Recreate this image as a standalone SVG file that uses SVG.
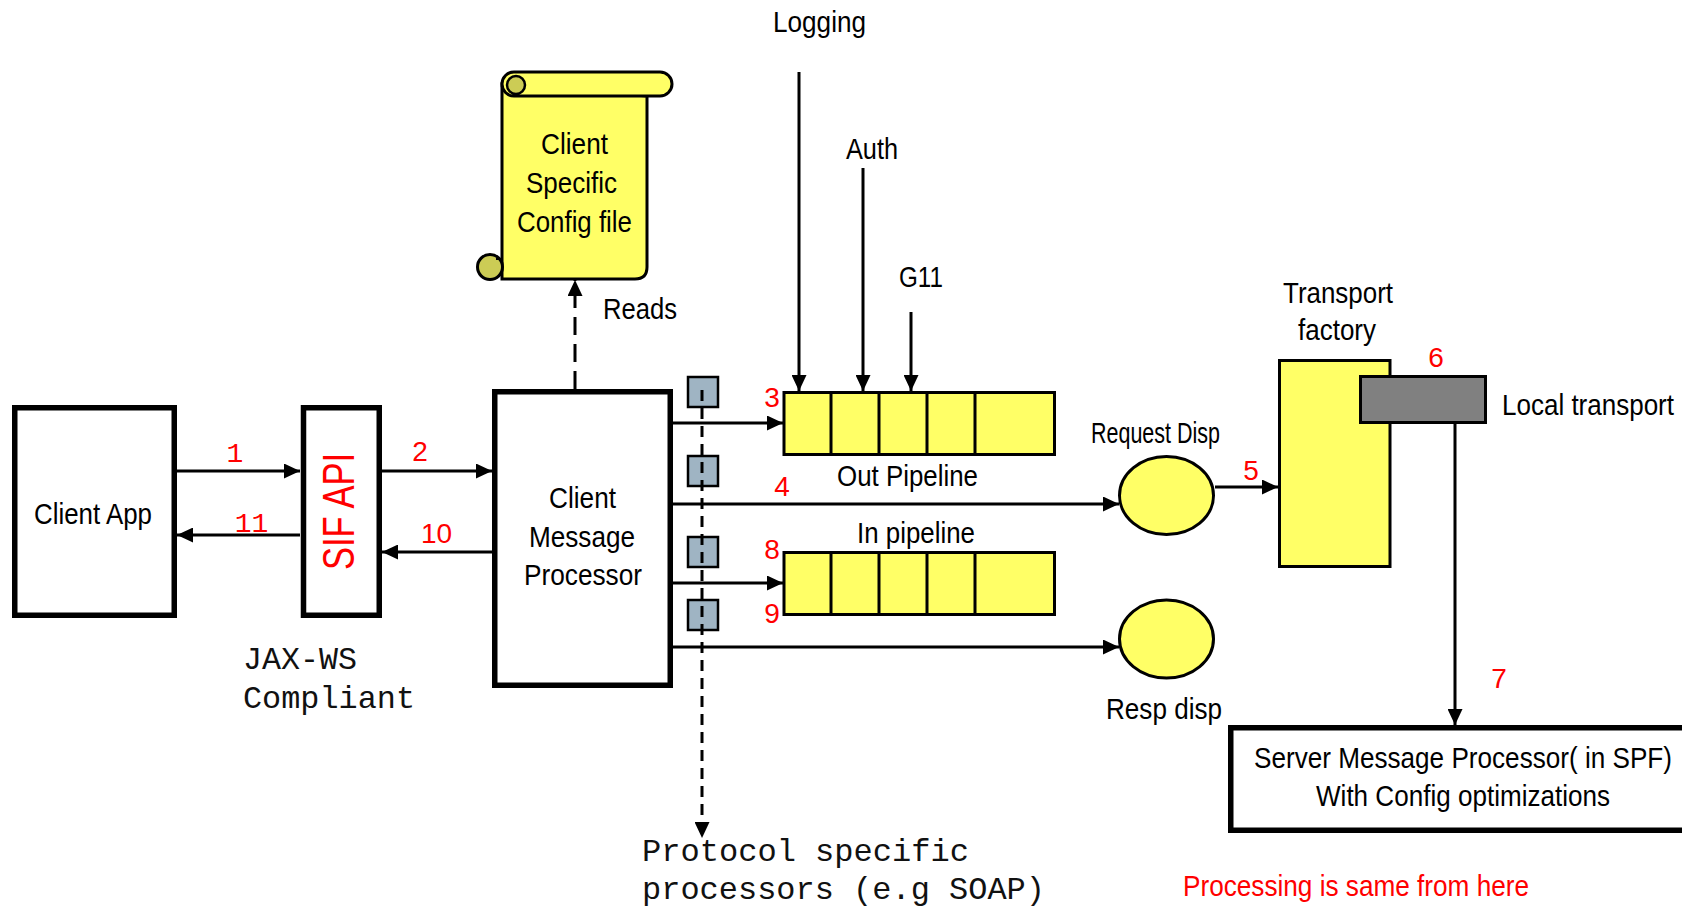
<svg xmlns="http://www.w3.org/2000/svg" width="1682" height="909" viewBox="0 0 1682 909">
<style>
.t{font-family:"Liberation Sans",Arial,sans-serif;font-size:30px;fill:#000;text-anchor:middle}
.m{font-family:"Liberation Mono","Courier New",monospace;font-size:32px;fill:#111}
.r{font-family:"Liberation Sans",Arial,sans-serif;font-size:28px;fill:#ff0000;text-anchor:middle}
.rm{font-family:"Liberation Mono","Courier New",monospace;font-size:28px;fill:#ff0000;text-anchor:middle}
.box{fill:#fff;stroke:#000;stroke-width:5.5}
.yel{fill:#ffff66;stroke:#000;stroke-width:3}
.sq{fill:#9fb4c3;stroke:#000;stroke-width:2.5}
.ln{fill:none;stroke:#000;stroke-width:3;marker-end:url(#ah)}
.dl{fill:none;stroke:#000;stroke-width:3;stroke-dasharray:11 7;marker-end:url(#ah)}
</style>
<defs>
<marker id="ah" markerUnits="userSpaceOnUse" markerWidth="16" markerHeight="15" refX="16" refY="7.5" orient="auto">
<path d="M0,0 L16,7.5 L0,15 Z" fill="#000"/>
</marker>
</defs>
<rect width="1682" height="909" fill="#fff"/>

<g id="config-scroll">
<path d="M502,84 L502,279 L635,279 Q647,279 647,267 L647,96 Z" class="yel"/>
<path d="M514,72 L660,72 A12,12 0 0 1 660,96 L514,96 A12,12 0 0 1 514,72 Z" class="yel"/>
<circle cx="516" cy="85" r="9" fill="#cccc55" stroke="#000" stroke-width="2.5"/>
<circle cx="490" cy="267" r="12.5" fill="#cccc55" stroke="#000" stroke-width="3"/>
<path d="M496,259 L502,259 L502,267" fill="none" stroke="#000" stroke-width="2"/>
<text class="t" x="574.5" y="154" textLength="67" lengthAdjust="spacingAndGlyphs">Client</text>
<text class="t" x="571.5" y="193" textLength="91" lengthAdjust="spacingAndGlyphs">Specific</text>
<text class="t" x="574.5" y="232" textLength="115" lengthAdjust="spacingAndGlyphs">Config file</text>
</g>

<g id="client-app">
<rect class="box" x="14.75" y="407.75" width="159.5" height="207.5"/>
<text class="t" x="93" y="524" font-size="32" textLength="118" lengthAdjust="spacingAndGlyphs">Client App</text>
</g>

<g id="sif-api">
<rect class="box" x="303.5" y="407.75" width="75.75" height="207.5"/>
<text transform="translate(354,511.5) rotate(-90)" x="0" y="0" font-family="Liberation Sans, Arial, sans-serif" font-size="44" fill="#ff0000" text-anchor="middle" textLength="117" lengthAdjust="spacingAndGlyphs">SIF API</text>
</g>

<g id="jaxws-label">
<text class="m" x="243" y="669" textLength="114" lengthAdjust="spacingAndGlyphs">JAX-WS</text>
<text class="m" x="243" y="708" textLength="172" lengthAdjust="spacingAndGlyphs">Compliant</text>
</g>

<g id="client-message-processor">
<rect class="box" x="494.75" y="391.75" width="175.5" height="293.5"/>
<text class="t" x="582.5" y="508" textLength="67" lengthAdjust="spacingAndGlyphs">Client</text>
<text class="t" x="582" y="547" textLength="106" lengthAdjust="spacingAndGlyphs">Message</text>
<text class="t" x="583" y="585" textLength="118" lengthAdjust="spacingAndGlyphs">Processor</text>
</g>

<g id="protocol-processors">
<rect class="sq" x="688" y="377" width="30" height="30"/>
<rect class="sq" x="688" y="456" width="30" height="30"/>
<rect class="sq" x="688" y="537" width="30" height="30"/>
<rect class="sq" x="688" y="600" width="30" height="30"/>
</g>

<g id="out-pipeline">
<rect class="yel" x="784" y="392.5" width="270.5" height="62"/>
<path d="M831,392.5 V454.5 M879,392.5 V454.5 M927,392.5 V454.5 M975,392.5 V454.5" stroke="#000" stroke-width="3"/>
<text class="t" x="907.5" y="486" textLength="141" lengthAdjust="spacingAndGlyphs">Out Pipeline</text>
</g>

<g id="in-pipeline">
<rect class="yel" x="784" y="552.5" width="270.5" height="62"/>
<path d="M831,552.5 V614.5 M879,552.5 V614.5 M927,552.5 V614.5 M975,552.5 V614.5" stroke="#000" stroke-width="3"/>
<text class="t" x="916" y="543" textLength="118" lengthAdjust="spacingAndGlyphs">In pipeline</text>
</g>

<g id="request-disp">
<ellipse class="yel" cx="1166.5" cy="495.5" rx="47" ry="39"/>
<text class="t" x="1155.5" y="443" font-size="25" textLength="129" lengthAdjust="spacingAndGlyphs">Request Disp</text>
</g>

<g id="resp-disp">
<ellipse class="yel" cx="1166.5" cy="639" rx="47" ry="39"/>
<text class="t" x="1164" y="719" textLength="116" lengthAdjust="spacingAndGlyphs">Resp disp</text>
</g>

<g id="transport-factory">
<rect class="yel" x="1279.5" y="360.5" width="110.5" height="206"/>
<text class="t" x="1338" y="303" textLength="110" lengthAdjust="spacingAndGlyphs">Transport</text>
<text class="t" x="1337" y="340" textLength="78" lengthAdjust="spacingAndGlyphs">factory</text>
</g>

<g id="local-transport">
<rect x="1360.5" y="376.5" width="125" height="46" fill="#808080" stroke="#000" stroke-width="3"/>
<text class="t" x="1588" y="415" textLength="172" lengthAdjust="spacingAndGlyphs">Local transport</text>
</g>

<g id="server-message-processor">
<rect class="box" x="1230.75" y="727.75" width="500" height="102.5"/>
<text class="t" x="1463" y="768" textLength="418" lengthAdjust="spacingAndGlyphs">Server Message Processor( in SPF)</text>
<text class="t" x="1463" y="806" textLength="294" lengthAdjust="spacingAndGlyphs">With Config optimizations</text>
</g>

<g id="labels">
<text class="t" x="819.5" y="32" textLength="93" lengthAdjust="spacingAndGlyphs">Logging</text>
<text class="t" x="872" y="159" textLength="52" lengthAdjust="spacingAndGlyphs">Auth</text>
<text class="t" x="921" y="287" textLength="44" lengthAdjust="spacingAndGlyphs">G11</text>
<text class="t" x="640" y="319" textLength="74" lengthAdjust="spacingAndGlyphs">Reads</text>
<text class="m" x="642" y="861" textLength="327" lengthAdjust="spacingAndGlyphs">Protocol specific</text>
<text class="m" x="642" y="899" textLength="403" lengthAdjust="spacingAndGlyphs">processors (e.g SOAP)</text>
<text x="1183" y="896" font-family="Liberation Sans, Arial, sans-serif" font-size="29" fill="#ff0000" textLength="346" lengthAdjust="spacingAndGlyphs">Processing is same from here</text>
</g>

<g id="connectors">
<line class="ln" x1="177" y1="471" x2="300" y2="471"/>
<line class="ln" x1="300" y1="535" x2="177" y2="535"/>
<line class="ln" x1="382" y1="471" x2="492" y2="471"/>
<line class="ln" x1="492" y1="552" x2="382" y2="552"/>
<line class="ln" x1="575" y1="389" x2="575" y2="280" style="stroke-dasharray:18 9"/>
<line class="ln" x1="673" y1="423" x2="783" y2="423"/>
<line class="ln" x1="673" y1="504" x2="1119" y2="504"/>
<line class="ln" x1="673" y1="583" x2="783" y2="583"/>
<line class="ln" x1="673" y1="647" x2="1119" y2="647"/>
<line class="ln" x1="1215" y1="487" x2="1278" y2="487"/>
<line class="ln" x1="1455" y1="424" x2="1455" y2="725"/>
<line class="ln" x1="799" y1="72" x2="799" y2="391"/>
<line class="ln" x1="863" y1="168" x2="863" y2="391"/>
<line class="ln" x1="911" y1="312" x2="911" y2="391"/>
<line class="dl" x1="702" y1="390" x2="702" y2="838"/>
</g>

<g id="step-numbers">
<text class="rm" x="235" y="462">1</text>
<text class="rm" x="251.5" y="532">11</text>
<text class="r" x="420" y="461">2</text>
<text class="r" x="436.5" y="543">10</text>
<text class="r" x="772" y="407">3</text>
<text class="r" x="782" y="496">4</text>
<text class="r" x="772" y="559">8</text>
<text class="r" x="772" y="623">9</text>
<text class="r" x="1251" y="480">5</text>
<text class="r" x="1436" y="367">6</text>
<text class="r" x="1499" y="688">7</text>
</g>
</svg>
